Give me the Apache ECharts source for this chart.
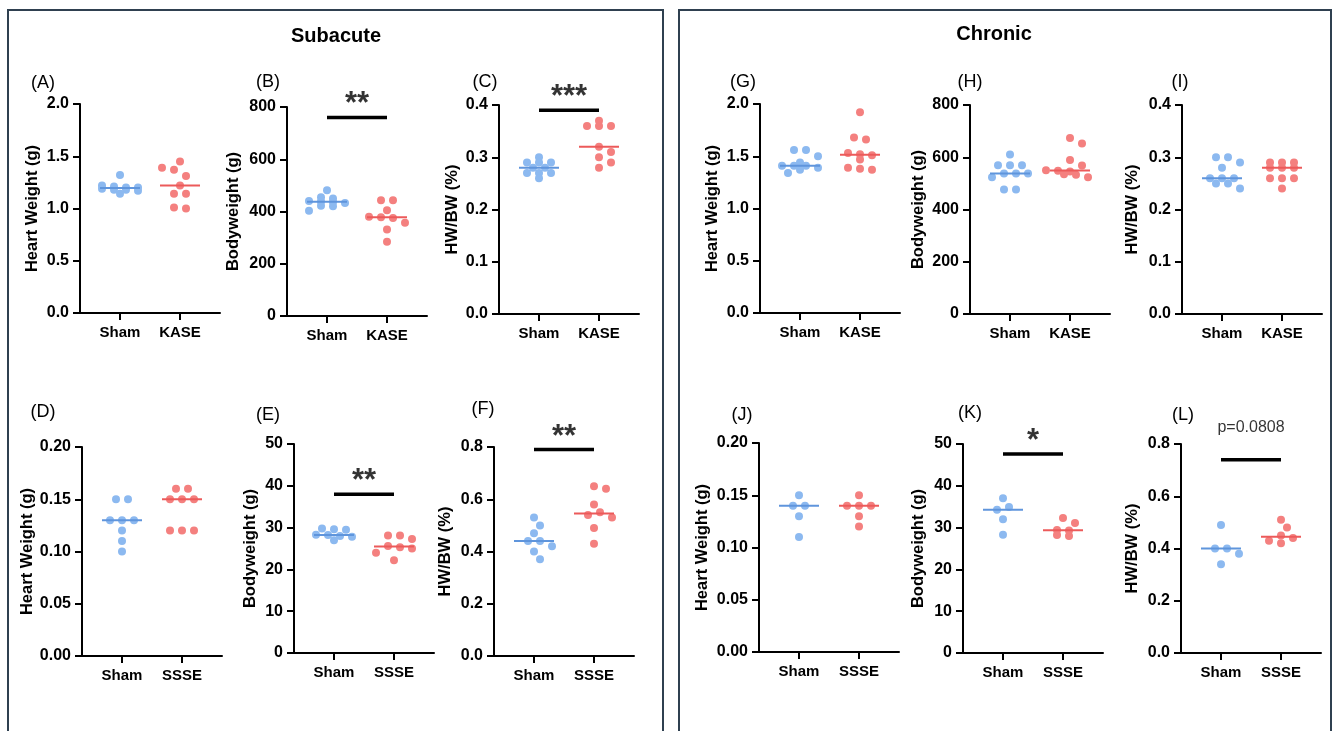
<!DOCTYPE html>
<html>
<head>
<meta charset="utf-8">
<script src="https://cdn.jsdelivr.net/npm/echarts@6/dist/echarts.min.js"></script>
<style>
html,body{margin:0;padding:0;background:#fff;}
#chart{width:1333px;height:731px;}
</style>
</head>
<body>
<div id="chart"></div>
<script>
// ---------- data ----------
const groupsTop = ['Sham', 'KASE'];
const groupsBottom = ['Sham', 'SSSE'];
const sectionTitles = ['Subacute', 'Chronic'];
const panelLetters = ['(A)','(B)','(C)','(D)','(E)','(F)','(G)','(H)','(I)','(J)','(K)','(L)'];
const yNames = ['Heart Weight (g)', 'Bodyweight (g)', 'HW/BW (%)'];

const A_sham = [1.32, 1.22, 1.21, 1.20, 1.20, 1.19, 1.18, 1.18, 1.17, 1.14];
const A_kase = [1.45, 1.39, 1.37, 1.31, 1.22, 1.14, 1.14, 1.01, 1.00];
const B_sham = [481, 455, 450, 440, 438, 436, 433, 422, 420, 403];
const B_kase = [443, 443, 405, 380, 378, 375, 357, 331, 284];
const C_sham = [0.30, 0.29, 0.29, 0.29, 0.28, 0.28, 0.27, 0.27, 0.27, 0.26];
const C_kase = [0.37, 0.36, 0.36, 0.36, 0.32, 0.31, 0.30, 0.29, 0.28];
const D_sham = [0.15, 0.15, 0.13, 0.13, 0.13, 0.12, 0.11, 0.10];
const D_ssse = [0.16, 0.16, 0.15, 0.15, 0.15, 0.12, 0.12, 0.12];
const E_sham = [29.8, 29.6, 29.5, 28.3, 28.2, 28.0, 27.8, 27.0];
const E_ssse = [28.1, 28.1, 27.3, 25.6, 25.3, 25.0, 24.0, 22.2];
const F_sham = [0.53, 0.50, 0.47, 0.44, 0.44, 0.42, 0.40, 0.37];
const F_ssse = [0.65, 0.64, 0.58, 0.55, 0.54, 0.53, 0.49, 0.43];
const G_sham = [1.56, 1.56, 1.50, 1.44, 1.41, 1.41, 1.41, 1.39, 1.37, 1.34];
const G_kase = [1.92, 1.68, 1.66, 1.53, 1.52, 1.51, 1.47, 1.39, 1.38, 1.37];
const H_sham = [611, 569, 569, 569, 538, 538, 538, 523, 477, 477];
const H_kase = [674, 653, 589, 568, 550, 548, 545, 535, 533, 523];
const I_sham = [0.30, 0.30, 0.29, 0.28, 0.26, 0.26, 0.26, 0.25, 0.25, 0.24];
const I_kase = [0.29, 0.29, 0.29, 0.28, 0.28, 0.28, 0.26, 0.26, 0.26, 0.24];
const J_sham = [0.15, 0.14, 0.14, 0.13, 0.11];
const J_ssse = [0.15, 0.14, 0.14, 0.14, 0.13, 0.12];
const K_sham = [37.0, 34.9, 34.3, 32.0, 28.3];
const K_ssse = [32.3, 31.1, 29.4, 29.3, 28.2, 28.0];
const L_sham = [0.49, 0.40, 0.40, 0.38, 0.34];
const L_ssse = [0.51, 0.48, 0.45, 0.44, 0.43, 0.42];

// y-axis ranges
const yMaxes = [2.0, 800, 0.4, 0.20, 50, 0.8, 2.0, 800, 0.4, 0.20, 50, 0.8];
const yIntervals = [0.5, 200, 0.1, 0.05, 10, 0.2, 0.5, 200, 0.1, 0.05, 10, 0.2];
const yDecimals = [1, 0, 1, 2, 0, 1, 1, 0, 1, 2, 0, 1];

// significance: panel index, text, bar height
const sigPanels = [1, 2, 4, 5, 10, 11];
const sigTexts = ['**', '***', '**', '**', '*', 'p=0.0808'];
const sigHeights = [760, 0.39, 38, 0.79, 47.6, 0.74];

const panelData = [
  [A_sham, A_kase], [B_sham, B_kase], [C_sham, C_kase],
  [D_sham, D_ssse], [E_sham, E_ssse], [F_sham, F_ssse],
  [G_sham, G_kase], [H_sham, H_kase], [I_sham, I_kase],
  [J_sham, J_ssse], [K_sham, K_ssse], [L_sham, L_ssse]
];

// ---------- layout (pixels) ----------
const gridLeft = [80, 287, 499, 82, 294, 494, 760, 970, 1182, 759, 963, 1181];
const gridTop = [104, 107, 105, 447, 444, 447, 104, 105, 105, 443, 444, 444];
const gridW = 140, gridH = 209;
const nameGaps = [39, 45, 38, 45, 35, 40, 39, 43, 41, 48, 36, 40];
const letterPos = [[43,83],[268,82],[485,82],[43,412],[268,415],[483,409],[743,82],[970,82],[1180,82],[742,415],[970,413],[1183,415]];
const FONT = '"Liberation Sans", Arial, Helvetica, sans-serif';
const BLUE = '#8cb9f0', RED = '#f4807f';
const BLUE_LINE = '#5f95dc', RED_LINE = '#ec5a5a';
const GROUP_X = [2, 5];

function median(arr) {
  const s = arr.slice().sort((a, b) => a - b);
  const n = s.length;
  return n % 2 ? s[(n - 1) / 2] : (s[n / 2 - 1] + s[n / 2]) / 2;
}

// simple beeswarm: returns pixel x offsets
function swarm(vals, ppu) {
  const idx = vals.map((v, i) => i).sort((a, b) => vals[b] - vals[a]);
  const off = new Array(vals.length).fill(0);
  const placed = [];
  const S = 12;
  let i = 0;
  while (i < idx.length) {
    const y0 = vals[idx[i]] * ppu;
    const row = [idx[i]];
    let j = i + 1;
    while (j < idx.length && y0 - vals[idx[j]] * ppu <= 2.5) { row.push(idx[j]); j++; }
    const n = row.length;
    const shifts = [0, S / 2, -S / 2, S, -S, 1.5 * S, -1.5 * S];
    let chosen = 0;
    for (const sh of shifts) {
      let ok = true;
      row.forEach((k, r) => {
        const x = (r - (n - 1) / 2) * S + sh, y = vals[k] * ppu;
        placed.forEach(p => { if (Math.hypot(p[0] - x, p[1] - y) < 9) ok = false; });
      });
      if (ok) { chosen = sh; break; }
    }
    row.forEach((k, r) => {
      const x = (r - (n - 1) / 2) * S + chosen;
      off[k] = x;
      placed.push([x, vals[k] * ppu]);
    });
    i = j;
  }
  return off;
}

const grids = [], xAxes = [], yAxes = [], series = [], graphics = [];

panelData.forEach((pair, p) => {
  const row = (p % 6) < 3 ? 0 : 1;
  const groups = row === 0 ? groupsTop : groupsBottom;
  grids.push({ left: gridLeft[p], top: gridTop[p], width: gridW, height: gridH });
  xAxes.push({
    gridIndex: p, type: 'value', min: 0, max: 7,
    axisLine: { show: true, onZero: false, lineStyle: { color: '#000', width: 2 } },
    axisTick: { show: true, customValues: GROUP_X, length: 7, lineStyle: { color: '#000', width: 2 } },
    axisLabel: {
      show: true, customValues: GROUP_X, margin: 12,
      formatter: v => (v === GROUP_X[0] ? groups[0] : groups[1]),
      color: '#000', fontFamily: FONT, fontWeight: 'bold', fontSize: 15
    },
    splitLine: { show: false }
  });
  yAxes.push({
    gridIndex: p, type: 'value', min: 0, max: yMaxes[p], interval: yIntervals[p],
    name: yNames[p % 3], nameLocation: 'middle', nameGap: nameGaps[p],
    nameTextStyle: { color: '#000', fontFamily: FONT, fontWeight: 'bold', fontSize: 16.5 },
    axisLine: { show: true, lineStyle: { color: '#000', width: 2 } },
    axisTick: { show: true, length: 7, lineStyle: { color: '#000', width: 2 } },
    axisLabel: {
      margin: 11, color: '#000', fontFamily: FONT, fontWeight: 'bold', fontSize: 16,
      formatter: v => Number(v).toFixed(yDecimals[p])
    },
    splitLine: { show: false }
  });
  const ppu = gridH / yMaxes[p];
  pair.forEach((vals, g) => {
    const offs = swarm(vals, ppu);
    series.push({
      type: 'scatter', xAxisIndex: p, yAxisIndex: p,
      symbol: 'circle', symbolSize: 8,
      itemStyle: { color: g === 0 ? BLUE : RED, opacity: 1 },
      data: vals.map((v, k) => ({ value: [GROUP_X[g], v], symbolOffset: [offs[k], 0] })),
      silent: true, z: 2
    });
    const m = median(vals);
    series.push({
      type: 'line', xAxisIndex: p, yAxisIndex: p, symbol: 'none',
      lineStyle: { color: g === 0 ? BLUE_LINE : RED_LINE, width: 2 },
      data: [[GROUP_X[g] - 1, m], [GROUP_X[g] + 1, m]],
      silent: true, z: 3
    });
  });
  const si = sigPanels.indexOf(p);
  if (si >= 0) {
    const isP = sigTexts[si].startsWith('p');
    series.push({
      type: 'line', xAxisIndex: p, yAxisIndex: p, symbol: 'none',
      lineStyle: { color: '#000', width: 3.5 },
      data: [[GROUP_X[0], sigHeights[si]], [GROUP_X[1], sigHeights[si]]],
      silent: true, z: 3
    });
    series.push({
      type: 'scatter', xAxisIndex: p, yAxisIndex: p, symbolSize: 0,
      data: [[(GROUP_X[0] + GROUP_X[1]) / 2, sigHeights[si]]],
      label: {
        show: true, position: 'top', distance: isP ? 24 : -3,
        formatter: sigTexts[si], color: '#000', fontFamily: FONT,
        fontWeight: isP ? 'normal' : 'bold', fontSize: isP ? 16 : 31
      },
      silent: true, z: 4
    });
  }
  graphics.push({
    type: 'text', x: letterPos[p][0], y: letterPos[p][1],
    style: { text: panelLetters[p], fontFamily: FONT, fontSize: 18, fill: '#000',
             align: 'center', verticalAlign: 'middle' }
  });
});

graphics.push(
  { type: 'rect', shape: { x: 8, y: 10, width: 655, height: 760 },
    style: { fill: 'none', stroke: '#2f4050', lineWidth: 2 }, z: -1 },
  { type: 'rect', shape: { x: 679, y: 10, width: 652, height: 760 },
    style: { fill: 'none', stroke: '#2f4050', lineWidth: 2 }, z: -1 },
  { type: 'text', x: 336, y: 36,
    style: { text: sectionTitles[0], fontFamily: FONT, fontSize: 20, fontWeight: 'bold',
             fill: '#000', align: 'center', verticalAlign: 'middle' } },
  { type: 'text', x: 994, y: 34,
    style: { text: sectionTitles[1], fontFamily: FONT, fontSize: 20, fontWeight: 'bold',
             fill: '#000', align: 'center', verticalAlign: 'middle' } }
);

const chart = echarts.init(document.getElementById('chart'), null, { renderer: 'canvas' });
chart.setOption({
  animation: false,
  backgroundColor: '#fff',
  grid: grids, xAxis: xAxes, yAxis: yAxes, series: series, graphic: graphics
});
</script>
</body>
</html>
